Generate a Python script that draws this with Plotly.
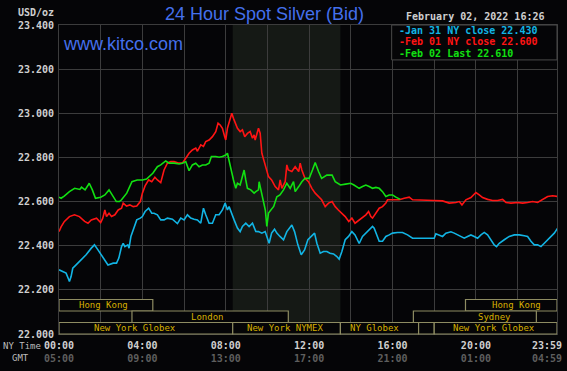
import plotly.graph_objects as go

# ---------------- data (time in NY hours, price USD/oz) ----------------
jan31_t = [0.00,0.15,0.34,0.45,0.50,0.58,0.66,0.82,1.06,1.30,1.55,1.70,1.87,2.03,2.20,2.35,2.60,2.76,2.87,3.00,
           3.08,3.16,3.30,3.36,3.45,3.56,3.73,3.90,4.00,4.13,4.30,4.45,4.56,4.72,4.88,5.04,5.20,5.44,5.68,5.84,
           6.00,6.16,6.32,6.48,6.64,6.80,6.93,7.04,7.20,7.36,7.52,7.68,7.84,7.97,8.08,8.16,8.27,8.40,8.56,8.69,
           8.80,8.96,9.12,9.28,9.44,9.57,9.73,9.89,10.08,10.20,10.34,10.45,10.60,10.77,10.93,11.04,11.17,11.30,11.46,11.62,
           11.78,11.94,12.10,12.26,12.37,12.53,12.69,12.85,13.00,13.17,13.33,13.44,13.57,13.73,13.89,14.05,14.20,14.30,14.40,14.56,
           14.72,14.88,15.04,15.12,15.23,15.36,15.52,15.68,15.84,16.00,16.24,16.48,16.72,16.96,17.28,17.60,18.00,18.08,18.24,18.40,
           18.56,18.80,18.96,19.14,19.28,19.44,19.60,19.76,19.92,20.08,20.24,20.40,20.56,20.72,20.88,20.99,21.12,21.36,21.60,21.84,
           22.08,22.32,22.48,22.64,22.80,22.96,23.12,23.28,23.44,23.60,23.76,23.92]
jan31_v = [22.291,22.285,22.276,22.250,22.238,22.260,22.298,22.313,22.336,22.359,22.389,22.404,22.381,22.359,22.336,22.313,22.321,22.321,22.344,22.396,
           22.411,22.396,22.404,22.389,22.442,22.472,22.517,22.525,22.532,22.555,22.570,22.547,22.547,22.540,22.517,22.517,22.525,22.520,22.500,22.525,
           22.517,22.540,22.525,22.520,22.517,22.502,22.570,22.540,22.502,22.502,22.540,22.540,22.562,22.593,22.562,22.577,22.547,22.517,22.480,22.464,
           22.487,22.502,22.487,22.502,22.465,22.464,22.457,22.464,22.411,22.457,22.475,22.457,22.442,22.427,22.464,22.479,22.494,22.464,22.404,22.359,
           22.381,22.427,22.442,22.457,22.411,22.366,22.374,22.374,22.366,22.363,22.351,22.339,22.374,22.427,22.442,22.464,22.449,22.427,22.410,22.442,
           22.457,22.472,22.487,22.479,22.449,22.420,22.420,22.442,22.449,22.457,22.460,22.460,22.449,22.434,22.434,22.434,22.434,22.454,22.449,22.442,
           22.457,22.463,22.457,22.449,22.442,22.434,22.442,22.449,22.442,22.434,22.449,22.460,22.449,22.427,22.404,22.396,22.411,22.427,22.442,22.449,
           22.449,22.445,22.442,22.420,22.404,22.404,22.396,22.411,22.427,22.442,22.457,22.479]

feb01_t = [0.00,0.10,0.26,0.50,0.74,0.98,1.23,1.39,1.55,1.80,2.00,2.10,2.20,2.28,2.40,2.52,2.68,2.84,3.00,3.08,
           3.24,3.40,3.56,3.73,3.90,4.00,4.13,4.30,4.45,4.60,4.72,4.88,5.04,5.20,5.36,5.52,5.76,5.92,6.08,6.24,
           6.40,6.56,6.64,6.80,6.93,7.04,7.20,7.36,7.52,7.63,7.73,7.84,7.95,8.00,8.08,8.21,8.29,8.37,8.45,8.56,
           8.69,8.80,8.91,9.04,9.17,9.28,9.36,9.41,9.57,9.65,9.73,9.90,10.05,10.20,10.37,10.53,10.61,10.69,10.85,10.93,
           11.00,11.17,11.33,11.50,11.57,11.65,11.80,11.97,12.13,12.29,12.45,12.60,12.77,12.93,13.10,13.25,13.40,13.57,13.73,13.90,
           14.05,14.20,14.40,14.56,14.72,14.85,14.96,15.04,15.20,15.36,15.52,15.68,15.76,16.00,16.32,16.56,16.80,16.96,17.44,18.00,
           18.40,18.72,19.04,19.20,19.33,19.52,19.76,20.00,20.16,20.32,20.56,20.80,21.04,21.28,21.44,21.68,22.00,22.24,22.48,22.72,
           22.96,23.20,23.44,23.68,23.92]
feb01_v = [22.464,22.485,22.510,22.532,22.540,22.532,22.510,22.502,22.517,22.525,22.505,22.525,22.562,22.532,22.547,22.532,22.540,22.562,22.570,22.593,
           22.580,22.585,22.577,22.580,22.600,22.638,22.671,22.698,22.690,22.710,22.698,22.686,22.743,22.774,22.781,22.781,22.774,22.774,22.796,22.819,
           22.834,22.842,22.828,22.857,22.850,22.872,22.879,22.894,22.917,22.955,22.947,22.932,22.894,22.879,22.932,22.970,23.000,22.977,22.955,22.932,
           22.917,22.925,22.894,22.909,22.917,22.887,22.902,22.879,22.932,22.910,22.819,22.758,22.713,22.698,22.668,22.653,22.698,22.660,22.690,22.766,
           22.743,22.736,22.758,22.736,22.774,22.743,22.705,22.690,22.660,22.638,22.623,22.608,22.577,22.593,22.600,22.577,22.562,22.547,22.532,22.510,
           22.525,22.502,22.517,22.532,22.540,22.555,22.532,22.525,22.547,22.570,22.577,22.593,22.608,22.608,22.608,22.615,22.620,22.608,22.608,22.605,
           22.603,22.593,22.596,22.600,22.585,22.608,22.618,22.641,22.630,22.618,22.610,22.605,22.605,22.610,22.596,22.593,22.596,22.593,22.596,22.600,
           22.596,22.608,22.623,22.626,22.623]

feb02_t = [0.00,0.10,0.25,0.50,0.75,1.00,1.08,1.25,1.40,1.45,1.60,1.75,2.00,2.20,2.40,2.50,2.75,2.90,3.00,3.25,
           3.50,3.75,4.00,4.20,4.50,4.72,4.88,5.12,5.28,5.52,5.76,5.92,6.08,6.24,6.40,6.56,6.72,6.88,7.04,7.20,
           7.31,7.52,7.68,7.84,8.00,8.08,8.16,8.27,8.37,8.48,8.56,8.69,8.80,8.88,8.96,9.04,9.20,9.36,9.44,9.57,
           9.60,9.75,9.90,9.97,10.05,10.30,10.45,10.60,10.77,10.93,11.09,11.25,11.33,11.50,11.65,11.80,12.00,12.16,12.29,12.45,
           12.60,12.85,13.10,13.25,13.50,13.75,13.99,14.15,14.30,14.40,14.56,14.72,14.88,15.04,15.20,15.36,15.52,15.68,15.84,16.00,
           16.16,16.37]
feb02_v = [22.620,22.615,22.625,22.645,22.660,22.655,22.665,22.653,22.675,22.683,22.653,22.615,22.620,22.630,22.653,22.638,22.600,22.600,22.608,22.638,
           22.690,22.698,22.698,22.702,22.728,22.758,22.766,22.784,22.774,22.774,22.770,22.774,22.781,22.740,22.766,22.774,22.758,22.766,22.766,22.774,
           22.804,22.804,22.801,22.804,22.811,22.819,22.781,22.736,22.698,22.660,22.683,22.675,22.713,22.743,22.698,22.660,22.653,22.638,22.645,22.653,
           22.690,22.620,22.560,22.487,22.548,22.578,22.622,22.630,22.653,22.683,22.660,22.690,22.645,22.668,22.690,22.705,22.705,22.743,22.777,22.736,
           22.705,22.720,22.720,22.690,22.675,22.679,22.683,22.675,22.668,22.660,22.668,22.675,22.668,22.660,22.664,22.660,22.645,22.623,22.630,22.630,
           22.620,22.610]

series_names = ["Jan 31 NY close 22.430", "Feb 01 NY close 22.600", "Feb 02 Last 22.610"]

ny_tick_labels = ["00:00", "04:00", "08:00", "12:00", "16:00", "20:00", "23:59"]
gmt_tick_labels = ["05:00", "09:00", "13:00", "17:00", "21:00", "01:00", "04:59"]
ny_tick_hours = [0, 4, 8, 12, 16, 20, 23.41]
price_ticks = [22.0, 22.2, 22.4, 22.6, 22.8, 23.0, 23.2, 23.4]

# market sessions: name, start, end (NY hours), row (0 = bottom), label hour
session_names = ["Hong Kong", "Hong Kong", "London", "Sydney", "New York Globex", "New York NYMEX", "NY Globex", "", "New York Globex"]
session_start = [0.0, 19.5, 3.5, 17.0, 0.0, 8.333, 13.5, 17.25, 18.0]
session_end = [4.5, 23.89, 11.0, 22.9, 8.333, 13.5, 17.25, 18.0, 23.89]
session_row = [2, 2, 1, 1, 0, 0, 0, 0, 0]
session_label_at = [2.15, 21.95, 7.14, 20.87, 3.66, 10.83, 15.15, None, 20.87]

nymex_open, nymex_close = 8.333, 13.5

# ---------------- styling ----------------
BG = "#050507"
GRID = "#3c3c3c"
MONO = "DejaVu Sans Mono"
colors = ["#12b4e4", "#ff1414", "#12e012"]
TICKFONT = dict(family=MONO, size=10, color="#cfcfcf", weight="bold")

fig = go.Figure()
for t, v, c, n in zip([jan31_t, feb01_t, feb02_t], [jan31_v, feb01_v, feb02_v], colors, series_names):
    fig.add_trace(go.Scatter(x=t, y=v, mode="lines", name=n,
                             line=dict(color=c, width=1.6), showlegend=False, hoverinfo="skip"))

x_end = 23.89
fig.update_layout(
    width=567, height=371,
    margin=dict(l=59, r=10, t=25, b=37, autoexpand=False),
    paper_bgcolor=BG, plot_bgcolor=BG,
    showlegend=False,
    xaxis=dict(range=[0, x_end], showgrid=False, zeroline=False, automargin=False,
               showline=True, mirror=True, linecolor=GRID, linewidth=1,
               tickmode="array", tickvals=ny_tick_hours[:-1],
               ticktext=[f"{a}<br><span style='color:#5e5e5e'>{b}</span>"
                         for a, b in zip(ny_tick_labels[:-1], gmt_tick_labels[:-1])],
               ticks="", ticklabelstandoff=2,
               tickfont=TICKFONT,
               minor=dict(tick0=0, dtick=2, showgrid=True, gridcolor=GRID, gridwidth=1, ticks="")),
    yaxis=dict(range=[22.0, 23.4], tickmode="array", tickvals=price_ticks,
               ticktext=[f"{p:.3f}" for p in price_ticks], automargin=False,
               showgrid=True, gridcolor=GRID, gridwidth=1, zeroline=False,
               showline=True, mirror=True, linecolor=GRID, linewidth=1,
               ticks="", ticklabelstandoff=2,
               tickfont=TICKFONT),
)

# NYMEX trading-hours shading
fig.add_shape(type="rect", xref="x", yref="paper", x0=nymex_open, x1=nymex_close, y0=0, y1=1,
              fillcolor="#151915", line=dict(width=0), layer="below")

# session bars
row_h = 0.0372
for name, s, e, r, lx in zip(session_names, session_start, session_end, session_row, session_label_at):
    fig.add_shape(type="rect", xref="x", yref="paper", x0=s, x1=e, y0=r * row_h, y1=(r + 1) * row_h,
                  fillcolor=BG, line=dict(color="#8e8c62", width=1.2), layer="above")
    if name:
        fig.add_annotation(x=lx, y=(r + 0.5) * row_h, xref="x", yref="paper", text=name,
                           showarrow=False, xanchor="center", yanchor="middle",
                           font=dict(family=MONO, size=9, color="#d6b000"))

# 23:59 label
fig.add_annotation(x=ny_tick_hours[-1], y=0, xref="x", yref="paper", yanchor="top", xanchor="center",
                   yshift=-4, showarrow=False,
                   text=f"{ny_tick_labels[-1]}<br><span style='color:#5e5e5e'>{gmt_tick_labels[-1]}</span>",
                   font=TICKFONT)

# legend box
fig.add_shape(type="rect", xref="paper", yref="paper", x0=0.668, x1=1.0, y0=0.887, y1=1.0,
              fillcolor=BG, line=dict(color="#4a4a4a", width=1), layer="above")
for i, (n, c) in enumerate(zip(series_names, colors)):
    fig.add_annotation(x=0.679, y=0.981 - i * 0.036, xref="paper", yref="paper", text="-" + n,
                       showarrow=False, xanchor="left", yanchor="middle",
                       font=dict(family=MONO, size=10, color=c, weight="bold"))

# titles and labels
fig.add_annotation(x=0.413, y=1.036, xref="paper", yref="paper", text="24 Hour Spot Silver (Bid)",
                   showarrow=False, xanchor="center", yanchor="middle",
                   font=dict(family="Liberation Sans", size=18, color="#4470ec"))
fig.add_annotation(x=0.835, y=1.027, xref="paper", yref="paper", text="February 02, 2022 16:26",
                   showarrow=False, xanchor="center", yanchor="middle",
                   font=TICKFONT)
fig.add_annotation(x=0.005, y=0.9375, xref="paper", yref="paper", text="www.kitco.com",
                   showarrow=False, xanchor="left", yanchor="middle",
                   font=dict(family="Liberation Sans", size=18, color="#4470ec"))
fig.add_annotation(x=-0.006, y=1.04, xref="paper", yref="paper", text="USD/oz",
                   showarrow=False, xanchor="right", yanchor="middle",
                   font=TICKFONT)
fig.add_annotation(x=-0.117, y=-0.04, xref="paper", yref="paper", text="NY Time",
                   showarrow=False, xanchor="left", yanchor="middle",
                   font=dict(family=MONO, size=9, color="#bdbdbd"))
fig.add_annotation(x=-0.099, y=-0.077, xref="paper", yref="paper", text="GMT",
                   showarrow=False, xanchor="left", yanchor="middle",
                   font=dict(family=MONO, size=9, color="#bdbdbd"))

fig.write_html("out.html", config={"displayModeBar": False},
               post_script="document.body.style.margin='0';")
